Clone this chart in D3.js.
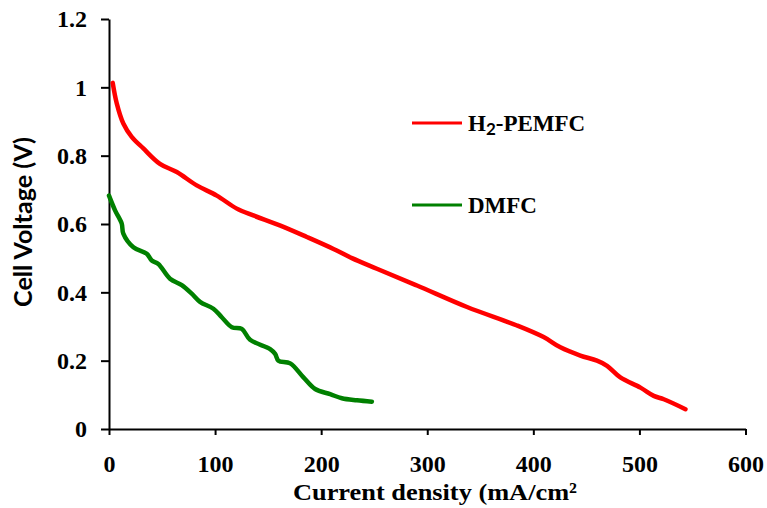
<!DOCTYPE html>
<html><head><meta charset="utf-8">
<script src="https://cdn.jsdelivr.net/npm/d3@7"></script>
<style>html,body{margin:0;padding:0;background:#fff;}</style>
</head><body>
<svg id="chart" width="767" height="508"></svg>
<script>
const xTicks = [0, 100, 200, 300, 400, 500, 600];
const yTicks = [0, 0.2, 0.4, 0.6, 0.8, 1, 1.2];
const yTickLabels = ["0", "0.2", "0.4", "0.6", "0.8", "1", "1.2"];
const seriesNames = ["H2-PEMFC", "DMFC"];
const pemfcX = [3.5, 7.3, 13.5, 21.4, 32.4, 48, 63.9, 82.7, 101.6, 120.5, 136, 161, 186.5, 211.6, 229, 252.5, 290.3, 337.5, 384.6, 409.7, 425.5, 444.3, 460, 469.5, 482, 501, 513.5, 523, 543.4];
const pemfcY = [1.013, 0.953, 0.894, 0.855, 0.821, 0.776, 0.752, 0.713, 0.683, 0.645, 0.625, 0.596, 0.562, 0.527, 0.500, 0.469, 0.420, 0.357, 0.303, 0.269, 0.239, 0.215, 0.200, 0.185, 0.151, 0.121, 0.097, 0.087, 0.058];
const dmfcX = [0, 5.7, 12, 13.5, 23, 35.6, 40.3, 46.5, 57.5, 68.6, 78, 85.8, 98.4, 106.3, 115.8, 125.2, 133, 151.9, 156.6, 159.7, 170.8, 183.3, 194.3, 208.5, 219.5, 233.7, 247.8];
const dmfcY = [0.683, 0.640, 0.601, 0.572, 0.532, 0.513, 0.493, 0.483, 0.440, 0.421, 0.396, 0.372, 0.352, 0.327, 0.298, 0.293, 0.261, 0.234, 0.220, 0.200, 0.192, 0.151, 0.117, 0.102, 0.090, 0.084, 0.080];
const colors = ["#ff0000", "#008000"];

const svg = d3.select("#chart");
const x = d3.scaleLinear().domain([0, 600]).range([109, 745.5]);
const y = d3.scaleLinear().domain([0, 1.2]).range([429, 19]);

const serif = "'Liberation Serif','Times New Roman',serif";

// axes
const yAxis = d3.axisLeft(y).tickValues(yTicks).tickSizeInner(8).tickSizeOuter(0).tickPadding(14)
  .tickFormat((d, i) => yTickLabels[i]);
const gy = svg.append("g").attr("transform", `translate(${x(0)},0)`).call(yAxis);
const xAxis = d3.axisBottom(x).tickValues(xTicks).tickSizeInner(6).tickSizeOuter(0).tickPadding(20)
  .tickFormat(d3.format("d"));
const gx = svg.append("g").attr("transform", `translate(0,${y(0)})`).call(xAxis);
[gx, gy].forEach(g => {
  g.select(".domain").attr("stroke", "#000").attr("stroke-width", 2);
  g.selectAll(".tick line").attr("stroke", "#000").attr("stroke-width", 2);
  g.selectAll(".tick text").attr("fill", "#000")
    .style("font-family", serif)
    .style("font-weight", "bold").style("font-size", "24px");
});
gx.selectAll(".tick text").attr("dy", "0.71em");

// axis titles
svg.append("text").attr("x", 435).attr("y", 500)
  .attr("text-anchor", "middle")
  .attr("textLength", 284).attr("lengthAdjust", "spacingAndGlyphs")
  .style("font-family", serif)
  .style("font-weight", "bold").style("font-size", "24px")
  .text("Current density (mA/cm²");
svg.append("text").attr("transform", "translate(32,222) rotate(-90)")
  .attr("text-anchor", "middle")
  .attr("textLength", 170).attr("lengthAdjust", "spacingAndGlyphs")
  .style("font-family", "Lato, 'Open Sans', sans-serif")
  .style("font-weight", "bold").style("font-size", "24px")
  .text("Cell Voltage (V)");

// lines
const line = d3.line().x(d => x(d[0])).y(d => y(d[1])).curve(d3.curveCatmullRom.alpha(0.5));
const series = [pemfcX.map((v, i) => [v, pemfcY[i]]), dmfcX.map((v, i) => [v, dmfcY[i]])];
series.forEach((s, i) => {
  svg.append("path").datum(s).attr("d", line)
    .attr("fill", "none").attr("stroke", colors[i]).attr("stroke-width", 4.5)
    .attr("stroke-linecap", "round").attr("stroke-linejoin", "round");
});

// legend
const legY = [123, 205];
seriesNames.forEach((n, i) => {
  svg.append("line").attr("x1", 412).attr("x2", 462).attr("y1", legY[i]).attr("y2", legY[i])
    .attr("stroke", colors[i]).attr("stroke-width", 3);
  const t = svg.append("text").attr("x", 468).attr("y", legY[i] + 8)
    .style("font-family", serif)
    .style("font-weight", "bold").style("font-size", "23px");
  if (n === "H2-PEMFC") {
    t.append("tspan").text("H");
    t.append("tspan").attr("dy", 4).style("font-family", "Lato, sans-serif").style("font-size", "17px").text("2");
    t.append("tspan").attr("dy", -4).text("-PEMFC");
  } else {
    t.text(n);
  }
});
</script>
</body></html>
